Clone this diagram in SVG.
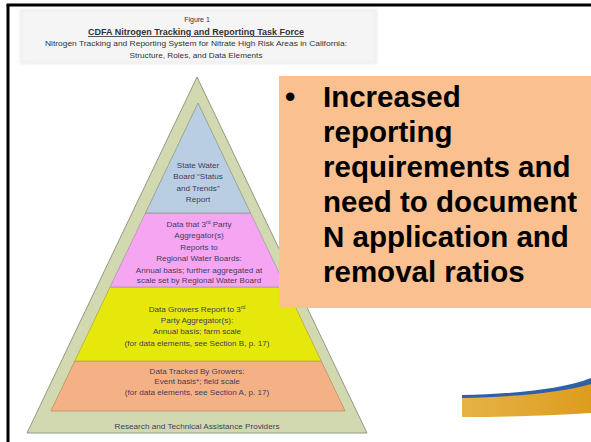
<svg xmlns="http://www.w3.org/2000/svg" width="591" height="442" viewBox="0 0 591 442">
<defs>
<style>
.t{font-family:"Liberation Sans",Arial,sans-serif;font-size:8.1px;fill:#433c5c;text-anchor:middle}
.h{font-family:"Liberation Sans",Arial,sans-serif;fill:#333;text-anchor:middle}
.b{font-family:"Liberation Sans",Arial,sans-serif;font-size:29.5px;font-weight:bold;fill:#000}
.sup{font-size:5px;baseline-shift:super}
</style>
<linearGradient id="gold" x1="0" y1="0" x2="1" y2="0">
<stop offset="0" stop-color="#e6b247"/>
<stop offset="1" stop-color="#dc9d1d"/>
</linearGradient>
<filter id="soft" x="-5%" y="-20%" width="110%" height="140%">
<feGaussianBlur stdDeviation="1.5"/>
</filter>
</defs>
<rect width="591" height="442" fill="#fff"/>

<g id="title">
<rect x="20" y="9" width="357" height="55" fill="#ececec" filter="url(#soft)"/>
<rect x="22" y="11" width="353" height="51" fill="#f5f5f5" filter="url(#soft)"/>
<text class="h" x="197" y="22" font-size="7">Figure 1</text>
<text class="h" x="196" y="35" font-size="8.3" font-weight="bold" text-decoration="underline" textLength="216" lengthAdjust="spacingAndGlyphs">CDFA Nitrogen Tracking and Reporting Task Force</text>
<text class="h" x="196" y="46" font-size="7.2" textLength="302" lengthAdjust="spacingAndGlyphs">Nitrogen Tracking and Reporting System for Nitrate High Risk Areas in California:</text>
<text class="h" x="196" y="57.5" font-size="7.2" textLength="133" lengthAdjust="spacingAndGlyphs">Structure, Roles, and Data Elements</text>
</g>

<g id="pyramid-base">
<polygon points="197,77 367,433 27,433" fill="#d2d9b0" stroke="#8f9b84" stroke-width="1"/>
<text class="t" x="197" y="428.5" textLength="165" lengthAdjust="spacingAndGlyphs">Research and Technical Assistance Providers</text>
</g>

<g id="tier-growers">
<polygon points="74.8,361 321.2,361 345.1,411 50.9,411" fill="#f4b185" stroke="#b9925c" stroke-width="0.8"/>
<text class="t" x="197" y="373.5">Data Tracked By Growers:</text>
<text class="t" x="197" y="384">Event basis*; field scale</text>
<text class="t" x="197" y="394.5">(for data elements, see Section A, p. 17)</text>
</g>

<g id="tier-aggregator-input">
<polygon points="110.1,287 285.9,287 321.2,361 74.8,361" fill="#e6e80c" stroke="#b3a84a" stroke-width="0.8"/>
<text class="t" x="197" y="311.5">Data Growers Report to 3<tspan class="sup">rd</tspan></text>
<text class="t" x="197" y="322.5">Party Aggregator(s):</text>
<text class="t" x="197" y="333.5">Annual basis; farm scale</text>
<text class="t" x="197" y="345.5">(for data elements, see Section B, p. 17)</text>
</g>

<g id="tier-regional">
<polygon points="145.5,213 250.5,213 285.9,287 110.1,287" fill="#f6a5f2" stroke="#a99aa8" stroke-width="0.8"/>
<text class="t" x="199" y="226.5">Data that 3<tspan class="sup">rd</tspan> Party</text>
<text class="t" x="199" y="238">Aggregator(s)</text>
<text class="t" x="199" y="249.5">Reports to</text>
<text class="t" x="199" y="261">Regional Water Boards:</text>
<text class="t" x="199" y="272.5">Annual basis; further aggregated at</text>
<text class="t" x="199" y="283">scale set by Regional Water Board</text>
</g>

<g id="tier-state">
<polygon points="198,103 250.5,213 145.5,213" fill="#b9cde3" stroke="#8f9b84" stroke-width="0.8"/>
<text class="t" x="198" y="167.5">State Water</text>
<text class="t" x="198" y="179">Board “Status</text>
<text class="t" x="198" y="190.5">and Trends”</text>
<text class="t" x="198" y="201.5">Report</text>
</g>

<g id="connectors"></g>

<g id="callout">
<rect x="279" y="76" width="312" height="232" fill="#fac090"/>
<text class="b" x="285" y="106.7">•</text>
<text class="b" x="323" y="106.7">Increased</text>
<text class="b" x="323" y="141.7">reporting</text>
<text class="b" x="323" y="176.7">requirements and</text>
<text class="b" x="323" y="211.7">need to document</text>
<text class="b" x="323" y="246.7">N application and</text>
<text class="b" x="323" y="281.7">removal ratios</text>
</g>

<g id="swoosh">
<path d="M462,397 C510,396 560,393 591,382 L591,413 C560,415 510,417 462,417 Z" fill="url(#gold)"/>
<path d="M462,395 C510,394 560,390 591,378 L591,384 C560,393 510,397 462,398 Z" fill="#2f5fa8"/>
</g>

<g id="frame">
<line x1="8" y1="5" x2="8" y2="442" stroke="#000" stroke-width="3"/>
<line x1="6.5" y1="5" x2="591" y2="5" stroke="#000" stroke-width="3"/>
</g>
</svg>
